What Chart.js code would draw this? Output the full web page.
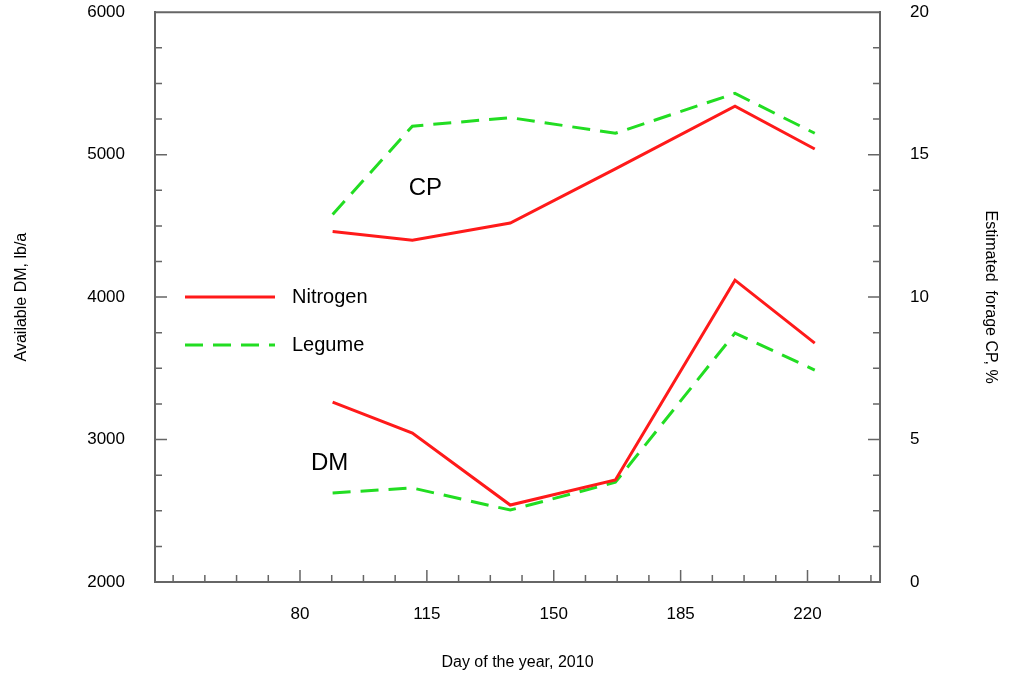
<!DOCTYPE html>
<html>
<head>
<meta charset="utf-8">
<script src="https://cdn.jsdelivr.net/npm/chart.js@4"></script>
<style>
  html, body { margin: 0; padding: 0; background: #fff; overflow: hidden; }
  #wrap { width: 1018px; height: 696px; margin-top: -20px; }
</style>
</head>
<body>
<div id="wrap"><canvas id="c"></canvas></div>
<script>
// data
const days = [89, 111, 138, 167, 200, 222];
const dmNitrogen = [3263, 3046, 2540, 2716, 4119, 3677];
const dmLegume = [2625, 2660, 2505, 2700, 3747, 3488];
const cpNitrogen = [12.3, 12.0, 12.6, 14.5, 16.7, 15.2];
const cpLegume = [12.9, 16.0, 16.3, 15.75, 17.15, 15.75];
const xTicks = [80, 115, 150, 185, 220];

const RED = '#ff1a1a';
const GREEN = '#22dd22';
const AXIS = '#666';
const FONT = 'Liberation Sans, Arial, sans-serif';

function pts(vals) {
  return days.map((d, i) => ({ x: d, y: vals[i] }));
}

// inward tick marks, top border, in-plot labels and legend
const decor = {
  id: 'decor',
  afterDraw(chart) {
    const ctx = chart.ctx;
    const a = chart.chartArea;
    const x = chart.scales.x, yl = chart.scales.y, yr = chart.scales.y2;
    ctx.save();
    ctx.strokeStyle = AXIS;
    ctx.lineWidth = 2;
    ctx.beginPath();
    ctx.moveTo(a.left, a.top); ctx.lineTo(a.right, a.top);
    ctx.stroke();
    ctx.lineWidth = 1.5;
    ctx.beginPath();
    for (let v = 2250; v < 6000; v += 250) {
      const p = yl.getPixelForValue(v);
      const len = v % 1000 === 0 ? 12 : 7;
      ctx.moveTo(a.left, p); ctx.lineTo(a.left + len, p);
    }
    for (let v = 1.25; v < 20; v += 1.25) {
      const p = yr.getPixelForValue(v);
      const len = Math.abs(v % 5) < 0.01 ? 12 : 7;
      ctx.moveTo(a.right, p); ctx.lineTo(a.right - len, p);
    }
    for (let v = 80 - 8.75 * 4; v < 240; v += 8.75) {
      if (v <= 40) continue;
      const p = x.getPixelForValue(v);
      const major = xTicks.some(t => Math.abs(t - v) < 0.01);
      ctx.moveTo(p, a.bottom); ctx.lineTo(p, a.bottom - (major ? 12 : 7));
    }
    ctx.stroke();

    ctx.fillStyle = '#000';
    ctx.font = '24px ' + FONT;
    ctx.textBaseline = 'middle';
    ctx.textAlign = 'left';
    ctx.fillText('CP', x.getPixelForValue(110), yr.getPixelForValue(13.8));
    ctx.fillText('DM', x.getPixelForValue(83), yl.getPixelForValue(2830));

    const items = [chart.data.datasets[0], chart.data.datasets[1]];
    ctx.font = '20px ' + FONT;
    items.forEach((ds, i) => {
      const ly = yl.getPixelForValue(4000) + i * 48;
      ctx.strokeStyle = ds.borderColor;
      ctx.lineWidth = ds.borderWidth;
      ctx.setLineDash(ds.borderDash || []);
      ctx.beginPath();
      ctx.moveTo(185, ly); ctx.lineTo(275, ly);
      ctx.stroke();
      ctx.setLineDash([]);
      ctx.fillStyle = '#000';
      ctx.fillText(ds.label, 292, ly);
    });
    ctx.restore();
  }
};

const common = { fill: false, pointRadius: 0, borderWidth: 3, tension: 0 };
const tickFont = { family: FONT, size: 17 };
const plain = v => String(v);

new Chart(document.getElementById('c'), {
  type: 'line',
  data: {
    datasets: [
      { ...common, label: 'Nitrogen', data: pts(dmNitrogen), borderColor: RED, yAxisID: 'y' },
      { ...common, label: 'Legume', data: pts(dmLegume), borderColor: GREEN, borderDash: [18, 10], yAxisID: 'y' },
      { ...common, label: 'Nitrogen CP', data: pts(cpNitrogen), borderColor: RED, yAxisID: 'y2' },
      { ...common, label: 'Legume CP', data: pts(cpLegume), borderColor: GREEN, borderDash: [18, 10], yAxisID: 'y2' }
    ]
  },
  options: {
    responsive: true,
    maintainAspectRatio: false,
    animation: false,
    plugins: { legend: { display: false }, tooltip: { enabled: false } },
    scales: {
      x: {
        type: 'linear', min: 40, max: 240,
        afterBuildTicks: s => { s.ticks = xTicks.map(v => ({ value: v })); },
        afterFit: s => { s.height = 94; },
        grid: { display: false },
        border: { color: AXIS, width: 2 },
        ticks: { color: '#000', font: tickFont, padding: 14, callback: plain },
        title: { display: true, text: 'Day of the year, 2010', color: '#000', font: { family: FONT, size: 16 }, padding: { top: 16 } }
      },
      y: {
        position: 'left', min: 2000, max: 6000,
        afterFit: s => { s.width = 155; },
        grid: { display: false },
        border: { color: AXIS, width: 2 },
        ticks: { stepSize: 1000, color: '#000', font: tickFont, padding: 22, callback: plain },
        title: { display: true, text: 'Available DM, lb/a', color: '#000', font: { family: FONT, size: 16 }, padding: { top: 12, bottom: 20 } }
      },
      y2: {
        position: 'right', min: 0, max: 20,
        afterFit: s => { s.width = 138; },
        grid: { display: false },
        border: { color: AXIS, width: 2 },
        ticks: { stepSize: 5, color: '#000', font: tickFont, padding: 22, callback: plain },
        title: { display: true, text: 'Estimated  forage CP, %', color: '#000', font: { family: FONT, size: 16 }, padding: { top: 18, bottom: 12 } }
      }
    }
  },
  plugins: [decor]
});
</script>
</body>
</html>
